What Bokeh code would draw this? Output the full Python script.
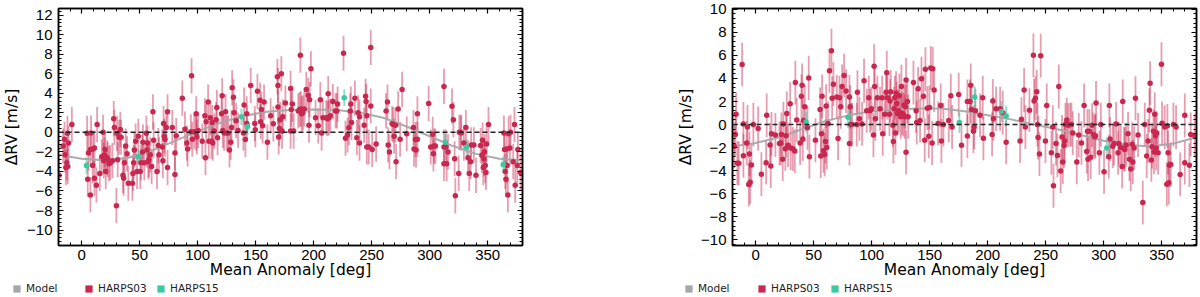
import numpy as np
from bokeh.plotting import figure
from bokeh.models import (Range1d, LinearAxis, SingleIntervalTicker, Span, Legend,
                          LegendItem, ColumnDataSource, CustomLabelingPolicy)
from bokeh.layouts import row, column
from bokeh.embed import file_html
from bokeh.resources import INLINE

# ---------------- data ----------------
model_x = [-20, 0, 20, 40, 60, 80, 100, 120, 140, 160, 180, 200, 220, 240, 260, 280, 300, 320, 340, 360, 380]
left_model_y = [-2.3, -2.7, -2.85, -2.6, -1.9, -0.9, 0.1, 1.0, 1.7, 2.1, 2.3, 2.35, 2.3, 2.0, 1.5, 0.6, -0.4, -1.4, -2.2, -2.7, -2.85]
right_model_y = [-1.9, -1.6, -1.1, -0.4, 0.3, 0.8, 1.15, 1.3, 1.4, 1.4, 1.15, 0.8, 0.45, 0.0, -0.4, -0.9, -1.4, -1.75, -1.9, -1.65, -1.1]

left_h03_x = [-19.5, -16.0, -14.8, -14.3, -13.7, -12.8, -12.3, -12.0, -11.4, -8.5, 4.7, 5.2, 5.8, 7.5, 8.1, 7.5, 9.5, 9.8,
              11.0, 11.0, 12.7, 13.3, 15.6, 17.3, 18.4, 19.0, 19.6, 20.1, 20.7, 21.9, 22.4, 23.6, 24.7, 26.5, 27.6,
              28.2, 29.9, 30.5, 31.0, 32.2, 33.3, 33.9, 35.6, 36.2, 36.8, 37.9, 39.1, 40.2, 43.7, 44.2, 44.8, 45.4,
              46.5, 47.7, 48.8, 50.5, 51.1, 52.3, 52.8, 54.0, 55.7, 56.3, 56.8, 57.4, 58.0, 59.1, 60.3, 61.4, 62.0,
              64.9, 66.0, 66.6, 69.5, 70.0, 70.6, 71.2, 71.8, 72.9, 74.0, 74.0, 78.1, 80.4, 80.4, 81.5, 86.7, 89.0,
              90.7, 91.3, 94.1, 94.7, 95.3, 97.0, 98.7, 98.7, 99.3, 100.4, 103.9, 106.2, 106.7, 107.3, 109.0, 109.6,
              110.8, 111.9, 112.5, 113.0, 114.2, 115.9, 116.5, 117.1, 120.5, 121.1, 121.7, 122.8, 124.0, 125.1,
              126.2, 127.4, 128.5, 129.1, 129.7, 130.8, 131.4, 133.1, 134.8, 139.4, 140.0, 141.1, 142.3, 142.3,
              145.7, 149.2, 149.7, 151.5, 153.8, 154.3, 154.9, 156.0, 157.2, 160.1, 162.9, 165.2, 168.7, 169.2,
              169.2, 169.8, 170.4, 171.0, 172.1, 172.7, 173.3, 175.6, 180.1, 180.1, 180.7,
              181.6, 182.7, 186.7, 187.9, 188.5, 189.0, 189.6, 190.7, 191.9, 193.6, 195.3, 195.9, 196.5, 197.6,
              201.6, 203.9, 205.7, 206.8, 208.0, 210.8, 212.0, 212.5, 213.1, 214.3, 216.5, 218.8, 220.0, 220.6,
              225.7, 227.4, 229.2, 230.3, 231.5, 232.0, 232.6, 235.5, 237.2, 238.3, 239.5, 239.5, 243.5, 244.7,
              245.2, 245.8, 245.8, 247.5, 249.2, 249.2, 250.4, 253.8, 262.4, 263.6, 264.2, 265.3, 267.6, 268.7,
              269.3, 270.5, 271.0, 272.8, 274.5, 276.2, 280.2, 286.0, 286.5, 287.7, 288.2, 289.4, 289.4, 299.1,
              300.9, 302.6, 303.2, 303.7, 304.9, 312.3, 312.3, 312.3, 314.0, 314.6, 315.8, 319.2, 320.4, 321.5,
              322.1, 325.0, 325.5, 326.7, 327.2, 329.5, 331.2, 333.0, 334.1, 335.3, 335.8, 338.1, 339.9, 343.9,
              345.0, 345.6, 346.2, 346.7, 347.3, 347.9, 348.5, 349.0, 350.7, 364.0, 364.5, 365.1, 365.7, 366.2,
              366.8, 367.4, 368.0, 369.1, 369.7, 372.0, 373.1, 373.7, 375.4, 376.0, 378.3]
left_h03_y = [-4.4, -1.4, -0.7, -2.3, -3.6, -3.1, -0.1, -3.5, -1.1, 0.8, -0.1, -4.8, -2.1, -1.75, -0.07, -6.4, -3.4, -1.7,
              -4.7, -1.6, -5.4, 0.8, -4.2, -2.5, 0.0, -2.9, -2.3, -1.75, -4.0, -2.6, -2.8, -3.2, -3.1, -2.9, 1.4,
              0.5, -7.5, -0.1, -2.8, -0.5, 0.3, -0.5, -4.4, -4.7, -3.1, -1.4, -2.2, -5.2, -5.2, -4.2, -3.1, -1.8,
              -0.9, -4.0, -0.4, -4.0, -3.1, -2.0, -1.0, -3.1, -0.1, -1.8, -1.1, -3.0, -2.8, -2.3, -3.5, 2.1, -0.8,
              -4.0, -1.35, -2.3, -1.5, -2.9, 0.9, -0.4, -0.7, 0.5, 2.1, -3.6, 0.5, -2.1, -4.3, -0.34, 3.5, 0.33,
              -1.1, -1.7, 0.06, 5.8, -0.7, 0.06, 1.9, -0.07, -0.47, 0.2, -0.9, 1.7, -2.6, 1.1, 3.1, -0.9,
              1.5, -0.9, 1.0, -1.1, 0.13, 1.3, 2.55, -0.54, 1.9, 3.75, 0.2, -0.07, 2.1, -0.07,
              -0.07, -1.8, -1.0, 0.5, 4.56, 3.6, 2.0, 1.2, 0.2, -0.07, 2.8, -0.74, 1.9, 0.9,
              4.8, 0.9, 0.27, 4.2, 3.3, 1.1, 2.35, 0.67, 3.1, -1.0, 1.7, 0.87, 5.7, 4.8,
              2.6, -0.47, 0.4, 1.3, 6.0, 0.13, 1.6, 3.0, 0.13, 4.5, 2.35,
              2.9, 0.13, 2.2, 2.35, 7.9, 2.4, 1.9, 2.0, 2.4, 4.4, 3.8, 0.73, 3.35, 6.5,
              1.5, 0.67, 3.35, -0.07, 1.5, 1.5, 1.4, 3.96, 1.5, 1.7, 3.15, 2.2, 2.2, 2.9,
              8.1, -0.6, -0.27, 0.47, 2.2, 2.9, 1.0, 3.5, -0.54, 2.0, -1.1, 1.6, 0.73, 3.7,
              3.15, 1.7, -1.5, -1.5, 8.7, 2.7, -1.75, -1.2, 2.2, 3.1, -1.28, -2.0, 0.87, 0.8,
              -0.4, 0.73, -3.0, 2.4, -0.7, 4.4, -0.14, 0.5, -1.7, -0.74, -1.8, 1.9, -0.7, 2.95,
              -1.5, -0.2, -2.2, -1.4, -1.4, 4.7, -1.5, -3.2, -1.5, -3.2, -2.0, 2.68, 1.3, -2.7,
              -6.5, -4.2, 0.0, 0.0, -0.07, -1.1, 0.5, -2.6, -4.2, -3.0, -1.28, -1.28, -4.4, -1.35,
              -2.35, -0.8, -3.6, -2.7, -2.0, -3.4, -4.1, -1.2, 0.8, -0.07, -1.75, -4.0, -4.8, -1.7,
              -3.4, -6.4, -0.14, -1.6, 0.0, -3.0, 0.8, -5.4, -3.4, -1.75, -4.1]
left_h03_err = 1.8
left_h15_x = [4.1, 48.8, 137.7, 142.9, 226.3, 313.5, 331.8, 363.4]
left_h15_y = [-3.4, -2.5, 1.6, 0.6, 3.55, -1.0, -1.5, -3.3]
left_h15_err = 0.85

right_h03_x = [-18.6, -17.5, -16.9, -15.8, -14.6, -11.7, -10.6, -10.6, -7.7, -7.1, -6.0, -5.4, -4.8, -3.7, -2.0, 2.1,
               4.9, 9.0, 9.5, 12.4, 13.0, 13.6, 17.0, 20.5, 21.6, 22.2, 23.3, 23.9, 25.6, 26.2, 26.8, 27.9, 29.7,
               30.2, 32.0, 33.7, 34.2, 35.4, 38.3, 39.4, 40.0, 40.6, 41.1, 42.3, 44.6, 45.7, 46.3, 51.5, 55.5,
               56.1, 56.7, 57.2, 58.4, 59.5, 60.1, 60.7, 61.3, 62.4, 63.6, 65.3, 65.9, 67.0, 69.9, 71.0, 72.2,
               73.3, 74.5, 76.2, 77.9, 80.8, 80.8, 81.4, 82.0, 83.1, 87.1, 87.7, 89.4, 91.7, 93.4, 95.7, 97.5,
               98.6, 99.8, 101.5, 102.1, 102.6, 103.2, 104.9, 107.2, 109.0, 109.5, 111.3, 112.4, 113.0, 113.6,
               115.3, 115.9, 116.4, 118.2, 118.7, 119.3, 119.9, 120.5, 121.0, 121.6, 122.2, 123.3, 123.9, 125.0,
               125.6, 126.2, 127.3, 127.9, 128.5, 129.1, 129.6, 129.6, 130.8, 131.4, 136.0, 138.3, 138.8, 140.0,
               141.7, 142.9, 144.6, 145.7, 146.3, 148.0, 149.2, 149.8, 150.9, 152.1, 152.6, 153.8, 157.2, 159.5,
               160.1, 161.8, 166.4, 168.2, 169.3, 175.0, 177.4,
               182.5, 182.5, 184.8, 185.4, 186.0, 187.7, 188.3, 189.4, 193.4, 195.7, 196.3, 203.8, 204.4, 204.9,
               207.2, 210.7, 213.0, 215.9, 227.9, 229.1, 231.4, 232.5, 236.0, 239.4, 240.0, 241.1, 242.3, 242.9,
               243.4, 244.6, 245.7, 249.8, 250.9, 254.9, 256.1, 256.7, 258.9, 260.1, 261.3, 262.9, 264.1, 264.7,
               265.9, 266.4, 267.0, 268.2, 269.3, 271.0, 272.2, 273.3, 276.8, 278.5, 280.8, 283.1, 285.4, 286.0,
               286.5, 287.7, 288.8, 290.0, 291.1, 292.3, 292.9, 293.4, 296.3, 297.5, 300.3, 304.4, 304.9, 305.5,
               307.8, 308.9, 310.7, 312.4, 313.0, 314.7, 315.9, 316.4, 317.6, 318.2, 319.3, 321.0, 322.2, 323.3,
               324.5, 325.1, 326.2, 327.4, 329.6, 333.7, 335.4, 337.1, 338.3, 339.4, 340.0, 341.1, 341.7, 342.9,
               343.4, 344.0, 344.6, 345.2, 345.7, 346.9, 349.8, 350.3, 352.6, 354.4, 354.9, 355.5, 356.1, 356.7,
               357.8, 360.1, 362.4, 365.9, 369.9, 369.9, 373.9, 375.0, 378.5]
right_h03_y = [-1.87, -0.85, 0.9, -3.35, -3.35, 5.2, 0.06, -2.7, -1.6, -0.2, -5.2, -2.55, -5.0, -3.5, 0.0, -0.34,
               -4.3, -3.3, 0.8, -1.76, -3.6, -0.8, -0.9, -1.65, -1.6, -0.85, -3.0, 0.06, -2.1, -0.96, 0.97, -1.8, 1.8,
               -2.04, -2.1, -2.3, 3.64, 0.4, -1.6, 2.45, 3.4, -1.25, 0.35, 1.54, -0.28, 4.04, -2.78, -1.36, 1.31,
               -2.72, -0.8, 2.45, -2.27, -2.6, -1.47, 1.6, -1.99, 0.1, 4.66, 6.4, 2.28, 3.5, 2.4, -1.2, 2.33,
               1.54, 3.3, 4.26, 2.9, -1.65, 2.4, 1.54, 0.0, 0.0, 0.0, 2.8, 0.5, 0.06, 3.8, 1.2, 2.33,
               1.2, 1.37, -0.9, 5.06, 3.3, 0.5, 2.33, 1.37, 2.33, -0.8, 0.9, 2.8, 4.5, 2.33,
               0.9, 2.05, 2.84, -0.05, -1.47, 1.37, 2.33, -0.74, 2.73, 1.82, 0.97, 1.2, 2.5, 0.68,
               3.3, 0.97, 0.86, 1.7, 0.68, 1.54, 3.87, -2.4, 2.0, 0.68, 3.64, 1.2, 0.17, 3.1,
               0.35, 3.98, 2.45, -1.36, 4.8, 1.42, -1.02, 1.48, 4.9, -1.6, 4.83, 3.0, 0.1, 1.65,
               -1.42, 0.0, 0.35, 2.5, -0.22, 2.6, -1.8,
               -1.0, 2.0, 2.0, 3.4, 1.31, -0.57, -0.22, 1.2, 0.8, 2.33, -1.19, -0.85, 2.05, 0.5,
               1.37, 1.37, 1.03, -1.53, -1.42, 0.46, 3.0, -0.22, 1.25, 6.0, 2.05, 2.28, 2.84, 0.0,
               -1.13, -2.55, 5.97, -1.42, 1.65, -2.44, -0.22, -5.3, -1.65, -2.67, 3.3, -4.03, -1.08, -3.24,
               -1.82, -1.42, 0.0, 0.4, -0.05, 0.0, 0.0, -0.74, -3.24, -0.9, -1.59, 1.65, -2.33, -0.57,
               -3.0, -0.57, -2.84, -0.05, -0.85, -1.08, -0.96, 1.88, -2.44, 0.0, -4.09, -2.78, 1.65, -1.25,
               -1.87, -1.65, 0.06, -2.44, -1.65, -1.99, -3.63, 2.0, -2.1, -2.16, -1.76, -0.8, -3.0, -3.86,
               -1.7, -3.24, -2.04, 2.28, -0.9, -6.76, 0.0, -2.72, -1.42, 1.25, 3.58, -3.06, -1.93, -0.57,
               -2.38, 0.9, -0.96, -2.04, -0.74, -2.44, 5.23, 0.11, -0.22, -5.17, -0.11, -2.44, -5.05, -3.52,
               -3.46, 0.0, -0.22, -4.32, 0.8, -3.3, -3.52, -0.85, -0.96]
right_h03_err = 1.9
right_h15_x = [43.4, 79.6, 175.6, 188.8, 211.8, 215.9, 302.6]
right_h15_y = [0.23, 0.63, 0.17, 2.4, 1.14, 0.74, -2.04]
right_h15_err = 0.9

left_yrange = (-11.58, 12.68)
right_yrange = (-10.48, 10.06)
x_range_deg = (-20, 380)

legend_labels = ["Model", "HARPS03", "HARPS15"]

C03 = "#c8284f"
C15 = "#3cc8a0"
CMODEL = "#a6a6a6"

TICK_FONT = "Liberation Sans"
LABEL_FONT = "DejaVu Sans"

HIDE_CODE = """
for (const i of indices) {
    indices.unset(i)
}
return indices
"""


def make_panel(h03x, h03y, h03e, h15x, h15y, h15e, mody, yr, width, bl, br, bt):
    p = figure(width=width, height=281, output_backend="svg", toolbar_location=None,
               x_range=Range1d(*x_range_deg), y_range=Range1d(*yr),
               min_border_left=bl, min_border_right=br, min_border_top=bt, min_border_bottom=34)
    p.background_fill_color = "white"
    p.border_fill_color = "white"
    p.outline_line_color = "black"
    p.outline_line_width = 1.5
    p.xgrid.visible = False
    p.ygrid.visible = False

    xt = SingleIntervalTicker(interval=50, num_minor_ticks=5)
    yt = SingleIntervalTicker(interval=2, num_minor_ticks=5)
    p.add_layout(LinearAxis(ticker=xt), "above")
    p.add_layout(LinearAxis(ticker=yt), "right")
    p.xaxis.ticker = xt
    p.yaxis.ticker = yt

    for ax in p.axis:
        ax.major_tick_in = 5
        ax.major_tick_out = 0
        ax.minor_tick_in = 3
        ax.minor_tick_out = 0
        ax.axis_line_width = 1.5
        ax.axis_line_color = "black"
        ax.major_tick_line_color = "black"
        ax.minor_tick_line_color = "black"
        ax.major_tick_line_width = 1.2
        ax.minor_tick_line_width = 1
        ax.major_label_text_font = TICK_FONT
        ax.major_label_text_color = "black"
        ax.major_label_text_font_size = "15px"

    for ax in (p.above[0], p.right[0]):
        ax.major_label_text_font_size = "0px"
        ax.major_label_standoff = 0
        ax.major_label_policy = CustomLabelingPolicy(code=HIDE_CODE)

    bx = p.below[0]
    bx.major_label_standoff = 4
    bx.axis_label = "Mean Anomaly [deg]"
    bx.axis_label_standoff = -2
    ly = p.left[0]
    ly.major_label_standoff = 6
    ly.axis_label = "\u0394RV [m/s]"
    ly.axis_label_standoff = 3
    for ax in (bx, ly):
        ax.axis_label_text_font = LABEL_FONT
        ax.axis_label_text_font_size = "15.5px"
        ax.axis_label_text_font_style = "normal"
        ax.axis_label_text_color = "black"

    p.add_layout(Span(location=0, dimension="width", line_color="#222222",
                      line_dash="5 3", line_width=1.5))

    h03x = np.array(h03x, dtype=float)
    h03y = np.array(h03y, dtype=float)
    h15x = np.array(h15x, dtype=float)
    h15y = np.array(h15y, dtype=float)
    s03 = ColumnDataSource(dict(x=h03x, y=h03y, lo=h03y - h03e, hi=h03y + h03e))
    s15 = ColumnDataSource(dict(x=h15x, y=h15y, lo=h15y - h15e, hi=h15y + h15e))

    p.segment(x0="x", y0="lo", x1="x", y1="hi", source=s03, line_color=C03, line_alpha=0.45, line_width=1.8)
    p.segment(x0="x", y0="lo", x1="x", y1="hi", source=s15, line_color=C15, line_alpha=0.6, line_width=1.8)
    p.line(model_x, mody, line_color=CMODEL, line_width=2, line_alpha=0.95)
    p.scatter("x", "y", source=s03, size=5.5, fill_color=C03, line_color=None)
    p.scatter("x", "y", source=s15, size=5.5, fill_color=C15, line_color=None)
    return p


def make_legend(width, leg_x, leg_spacing):
    q = figure(width=width, height=16, output_backend="svg", toolbar_location=None,
               x_range=Range1d(0, 1), y_range=Range1d(0, 1),
               x_axis_location=None, y_axis_location=None,
               min_border_left=0, min_border_right=0, min_border_top=0, min_border_bottom=0)
    q.outline_line_color = None
    q.xgrid.visible = False
    q.ygrid.visible = False
    q.background_fill_color = "white"
    q.border_fill_color = "white"
    # swatch-only renderers: one NaN row each, so nothing is drawn in the plot area
    nan = [float("nan")]
    swatches = []
    for col in (CMODEL, C03, C15):
        swatches.append(q.quad(left=nan, right=nan, top=nan, bottom=nan,
                               fill_color=col, line_color=None))
    leg = Legend(items=[LegendItem(label=lab, renderers=[r]) for lab, r in zip(legend_labels, swatches)],
                 location=(leg_x, 3), orientation="horizontal",
                 label_text_font=LABEL_FONT, label_text_font_size="10.5px", label_text_color="#222222",
                 label_height=10, glyph_height=9, glyph_width=9, label_standoff=5,
                 label_width=50, spacing=leg_spacing, padding=0, margin=0,
                 border_line_color=None, background_fill_alpha=0)
    q.add_layout(leg)
    return q


p1 = make_panel(left_h03_x, left_h03_y, left_h03_err, left_h15_x, left_h15_y, left_h15_err,
                left_model_y, left_yrange, 532, 57, 10, 6)
p2 = make_panel(right_h03_x, right_h03_y, right_h03_err, right_h15_x, right_h15_y, right_h15_err,
                right_model_y, right_yrange, 668, 200, 4, 8)
l1 = make_legend(532, 12, 8)
l2 = make_legend(668, 152, 9)

layout = column(row(p1, p2), row(l1, l2))
open("out.html", "w").write(file_html(layout, INLINE))
